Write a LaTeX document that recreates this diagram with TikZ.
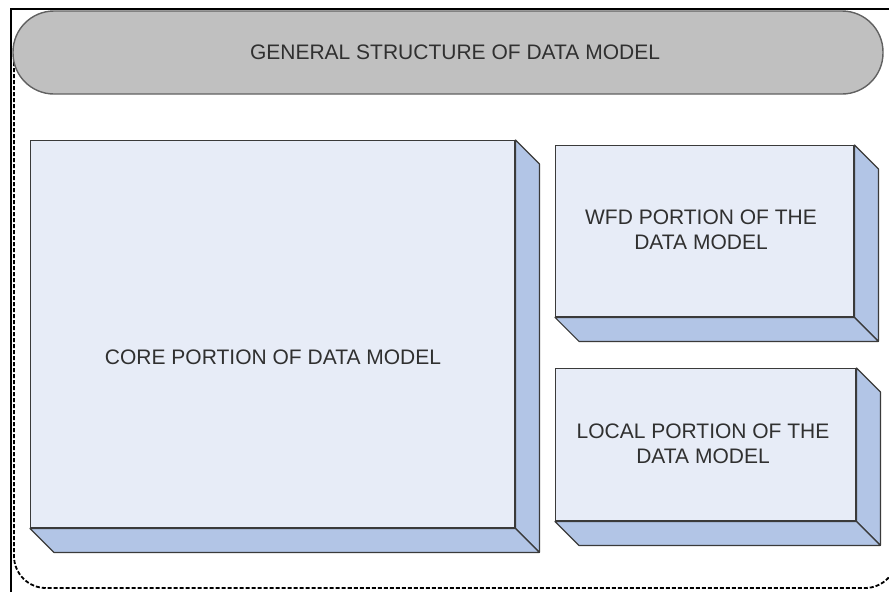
\documentclass[tikz,border=0pt]{standalone}
\usepackage{fontspec}
\setmainfont{Liberation Sans}
\definecolor{facecol}{HTML}{E7ECF7}
\definecolor{sidecol}{HTML}{B2C5E6}
\definecolor{pillcol}{HTML}{C0C0C0}
\definecolor{edgecol}{HTML}{3A3A3A}
\definecolor{txtcol}{HTML}{303030}
\tikzset{
  face/.style={draw=edgecol, line width=1.4pt, fill=facecol, rectangle, inner sep=0pt},
  side/.style={draw=edgecol, line width=1.2pt, fill=sidecol, line join=round},
  lbl/.style={text=txtcol, font=\fontsize{21}{25}\selectfont, align=center, inner sep=0pt},
  pill/.style={draw=edgecol!80, line width=1.4pt, fill=pillcol, rectangle, rounded corners=41pt, inner sep=0pt},
  frameline/.style={black, line width=2pt},
  container/.style={black, line width=1.8pt, dash pattern=on 4pt off 2pt, rounded corners=32pt}
}
\begin{document}
\begin{tikzpicture}[x=1pt,y=-1pt]
\useasboundingbox (0,0) rectangle (889,592);
% outer solid frame lines
\coordinate (ftl) at (11,9);
\coordinate (ftr) at (889,9);
\coordinate (fbl) at (11,592);
\draw[frameline] (fbl) -- (ftl) -- (ftr);
% dashed container
\begin{scope}
\clip (12,62) rectangle (889,592);
\draw[container] (14,30) rectangle (897,588);
\end{scope}
% title pill
\node[pill, minimum width=870pt, minimum height=83pt] (title) at (448,52.5) {};
\node[lbl] (titletxt) at (455,52) {GENERAL STRUCTURE OF DATA MODEL};
% core box
\def\dd{24}
\node[face, minimum width=484pt, minimum height=387pt, anchor=north west] (core) at (30,140) {};
\filldraw[side] (core.north east) -- ++(\dd,\dd) -- ([shift={(\dd,\dd)}]core.south east) -- (core.south east) -- cycle;
\filldraw[side] (core.south west) -- (core.south east) -- ++(\dd,\dd) -- ([shift={(\dd,\dd)}]core.south west) -- cycle;
\node[lbl] (coretxt) at (273,357) {CORE PORTION OF DATA MODEL};
% WFD box
\node[face, minimum width=298pt, minimum height=171pt, anchor=north west] (wfd) at (555,145) {};
\filldraw[side] (wfd.north east) -- ++(\dd,\dd) -- ([shift={(\dd,\dd)}]wfd.south east) -- (wfd.south east) -- cycle;
\filldraw[side] (wfd.south west) -- (wfd.south east) -- ++(\dd,\dd) -- ([shift={(\dd,\dd)}]wfd.south west) -- cycle;
\node[lbl] (wfdtxt) at (701,230) {WFD PORTION OF THE\\DATA MODEL};
% Local box
\node[face, minimum width=300pt, minimum height=152pt, anchor=north west] (local) at (555,368) {};
\filldraw[side] (local.north east) -- ++(\dd,\dd) -- ([shift={(\dd,\dd)}]local.south east) -- (local.south east) -- cycle;
\filldraw[side] (local.south west) -- (local.south east) -- ++(\dd,\dd) -- ([shift={(\dd,\dd)}]local.south west) -- cycle;
\node[lbl] (localtxt) at (703,444) {LOCAL PORTION OF THE\\DATA MODEL};
\end{tikzpicture}
\end{document}
